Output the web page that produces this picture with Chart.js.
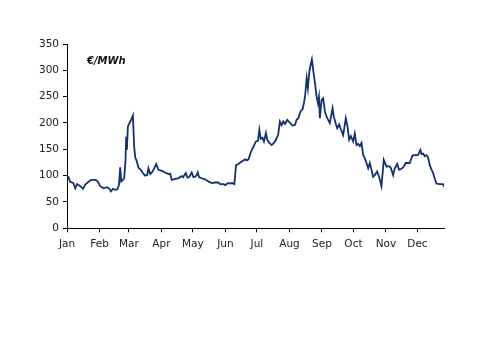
<!DOCTYPE html>
<html>
<head>
<meta charset="utf-8">
<script src="https://cdn.jsdelivr.net/npm/chart.js@4.4.1/dist/chart.umd.min.js"></script>
<style>
html,body{margin:0;padding:0;background:#fff;}
#wrap{width:500px;height:353px;}
</style>
</head>
<body>
<div id="wrap"><canvas id="c" width="500" height="353"></canvas></div>
<script>
// Day of year (0 = 1 Jan) and price in EUR/MWh
const days = [0,1.5,3.1,6.0,7.9,9.5,12.7,15.2,17.4,20.3,23.1,26.9,28.8,31.7,34.8,38.1,40.5,41.9,43.8,46.0,48.1,49.5,50.7,51.7,53.3,54.5,55.8,56.4,57.1,58.0,59.6,61.8,62.8,64.0,65.0,66.6,68.1,70.4,72.3,74.5,76.4,77.6,79.3,80.9,82.4,85.0,87.2,90.4,93.5,96.7,98.3,99.9,103.0,105.9,109.4,110.7,113.2,114.9,116.8,118.9,120.5,122.1,123.7,124.6,125.9,128.5,131.6,134.7,138.0,141.1,144.2,145.9,149.0,150.6,153.8,155.4,157.3,159.5,161.1,163.3,166.5,169.7,171.3,173.0,175.1,177.5,180.1,182.0,183.3,184.6,186.3,187.7,189.6,190.9,192.8,195.1,197.2,199.1,201.3,202.9,204.5,206.1,207.7,209.9,212.5,215.0,217.2,218.8,220.4,222.6,224.5,225.8,227.0,228.4,229.6,230.8,232.2,233.4,234.6,236.3,237.9,239.1,240.1,241.0,242.6,244.1,245.8,247.4,248.9,250.5,253.1,254.3,256.2,257.5,259.4,261.0,263.2,265.7,267.2,268.9,270.5,272.7,274.3,275.9,277.6,279.1,280.7,282.2,283.8,285.4,287.0,288.6,290.2,291.7,293.3,295.5,297.4,299.7,301.9,304.5,306.9,308.6,310.8,312.4,314.6,316.5,318.7,320.9,322.8,325.0,326.6,329.2,331.4,334.5,336.8,337.8,339.5,340.9,342.5,344.1,345.7,347.3,348.8,350.4,352.0,355.2,358.3,359.3];
const prices = [95,97,88,86,76,84,80,75,83,88,92,92,90,80,76,78,75,70,75,73,74,82,116,89,92,95,130,174,149,193,200,209,214,155,135,127,115,111,105,100,101,114,103,106,111,122,111,109,106,103,104,92,94,95,99,97,105,96,98,106,97,98,101,106,97,95,93,89,86,87,87,84,84,82,86,85,86,84,120,122,127,131,129,131,144,154,165,166,187,170,172,165,181,168,162,158,162,168,178,203,196,203,198,206,200,195,196,206,209,222,226,238,253,285,266,295,311,321,301,276,250,238,250,209,244,247,222,212,206,200,228,212,198,190,197,188,177,209,195,168,175,165,180,158,160,156,162,140,133,124,114,124,111,98,101,108,98,80,130,117,118,115,101,114,122,111,113,117,124,124,124,138,139,139,149,141,142,137,139,135,120,112,106,95,85,84,84,79];
const monthStarts = [0,31,59,90,120,151,181,212,243,273,304,334];
const monthLabels = ['Jan','Feb','Mar','Apr','May','Jun','Jul','Aug','Sep','Oct','Nov','Dec'];
const yTicks = [0,50,100,150,200,250,300,350];
const unitLabel = '€/MWh';

const points = days.map((d,i)=>({x:d,y:prices[i]}));
const FONT = 'DejaVu Sans';

const unitPlugin = {
  id:'unit',
  afterDraw(chart){
    const ctx = chart.ctx, a = chart.chartArea;
    ctx.save();
    ctx.font = 'italic bold 10px "' + FONT + '"';
    ctx.fillStyle = '#111';
    ctx.textBaseline = 'alphabetic';
    ctx.textAlign = 'left';
    ctx.fillText(unitLabel, a.left + 20, a.top + 19.5);
    ctx.restore();
  }
};

new Chart(document.getElementById('c'), {
  type:'line',
  data:{datasets:[{data:points,borderColor:'#14306e',borderWidth:1.8,pointRadius:0,tension:0,fill:false}]},
  options:{
    responsive:false,
    animation:false,
    plugins:{legend:{display:false},tooltip:{enabled:false}},
    layout:{padding:{left:0,right:56,top:44,bottom:100}},
    scales:{
      x:{
        type:'linear', min:0, max:359.3,
        afterBuildTicks(s){ s.ticks = monthStarts.map(v=>({value:v})); },
        afterFit(s){ s.height = 24.7; },
        ticks:{autoSkip:false,maxRotation:0,minRotation:0,padding:6,color:'#222',
          font:{family:FONT,size:10.5},
          callback(v){ const i = monthStarts.indexOf(v); return i>=0?monthLabels[i]:''; }},
        grid:{display:true,drawOnChartArea:false,drawTicks:true,tickLength:4,color:'#000',lineWidth:1},
        border:{display:true,color:'#000',width:1}
      },
      y:{
        min:0,max:350,
        afterBuildTicks(s){ s.ticks = yTicks.map(v=>({value:v})); },
        afterFit(s){ s.width = 67; },
        ticks:{padding:4,color:'#222',font:{family:FONT,size:10.5}},
        grid:{display:true,drawOnChartArea:false,drawTicks:true,tickLength:4,color:'#000',lineWidth:1},
        border:{display:true,color:'#000',width:1}
      }
    }
  },
  plugins:[unitPlugin]
});
</script>
</body>
</html>
